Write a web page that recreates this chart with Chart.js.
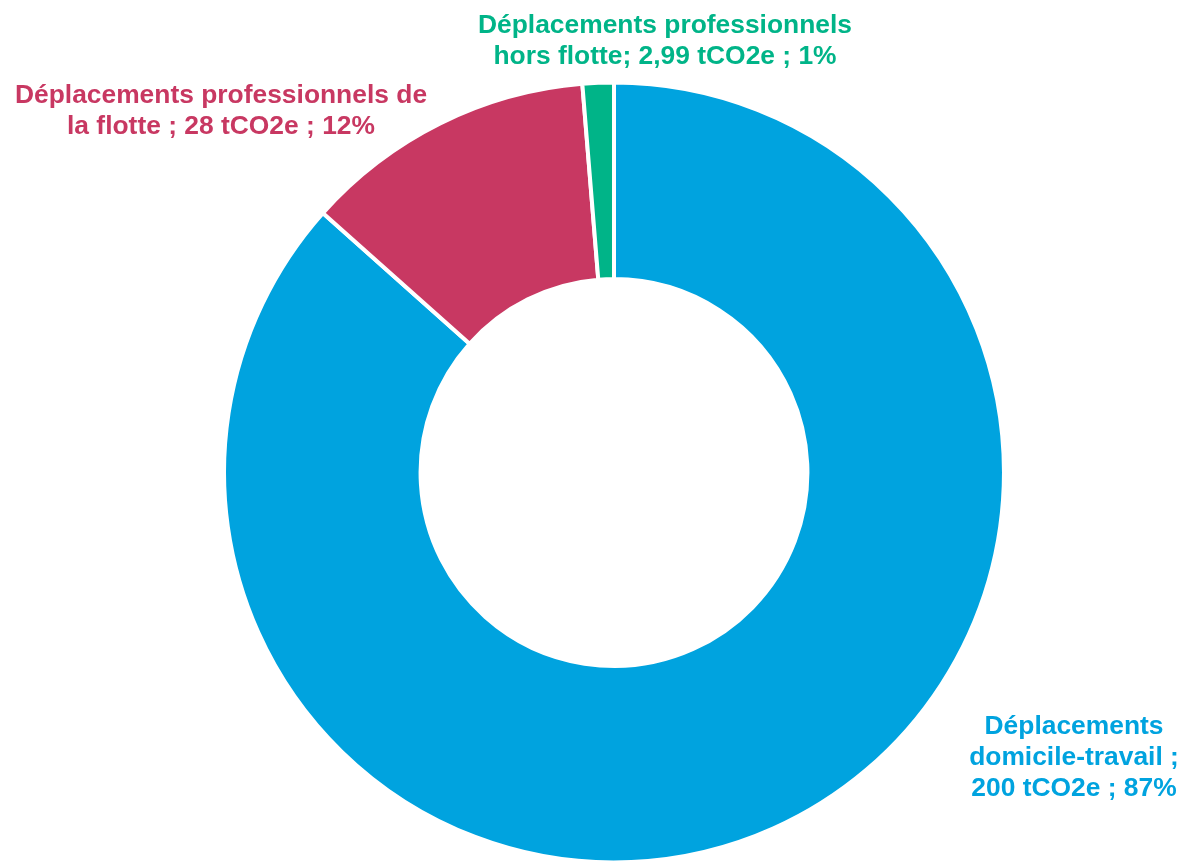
<!DOCTYPE html>
<html>
<head>
<meta charset="utf-8">
<script src="https://cdn.jsdelivr.net/npm/chart.js@4/dist/chart.umd.min.js"></script>
<style>
  html, body { margin: 0; padding: 0; background: #ffffff; }
  #wrap { width: 1184px; height: 861px; }
</style>
</head>
<body>
<div id="wrap"><canvas id="donut"></canvas></div>
<script>
const labels = [
  'Déplacements domicile-travail',
  'Déplacements professionnels de la flotte',
  'Déplacements professionnels hors flotte'
];
const values = [200, 28, 2.99];
const colors = ['#00a3df', '#c83862', '#00b488'];
const labelLines = [
  ['Déplacements', 'domicile-travail ;', '200 tCO2e ; 87%'],
  ['Déplacements professionnels de', 'la flotte ; 28 tCO2e ; 12%'],
  ['Déplacements professionnels', 'hors flotte; 2,99 tCO2e ; 1%']
];

// first-line baseline of each label block, relative to the doughnut centre (px)
const labelAnchors = [
  { dx: 460, dy: 261 },
  { dx: -393, dy: -370 },
  { dx: 51, dy: -440 }
];

const sliceLabels = {
  id: 'sliceLabels',
  afterDraw(chart) {
    const ctx = chart.ctx;
    const arc = chart.getDatasetMeta(0).data[0];
    const cx = arc.x, cy = arc.y;
    ctx.save();
    ctx.font = 'bold 26.4px Arial, "Liberation Sans", sans-serif';
    ctx.textAlign = 'center';
    ctx.textBaseline = 'alphabetic';
    labelLines.forEach((lines, i) => {
      ctx.fillStyle = colors[i];
      lines.forEach((line, j) => {
        ctx.fillText(line, cx + labelAnchors[i].dx, cy + labelAnchors[i].dy + j * 31);
      });
    });
    ctx.restore();
  }
};

const chart = new Chart(document.getElementById('donut'), {
  type: 'doughnut',
  data: {
    labels: labels,
    datasets: [{
      data: values,
      backgroundColor: colors,
      borderColor: '#ffffff',
      borderWidth: 4
    }]
  },
  options: {
    responsive: true,
    maintainAspectRatio: false,
    animation: false,
    cutout: '49.6%',
    radius: '100.9%',
    layout: {
      padding: { top: 84, bottom: 0, left: 44, right: 0 }
    },
    plugins: {
      legend: { display: false },
      tooltip: { enabled: false }
    }
  },
  plugins: [sliceLabels]
});
document.fonts.ready.then(() => chart.draw());
</script>
</body>
</html>
